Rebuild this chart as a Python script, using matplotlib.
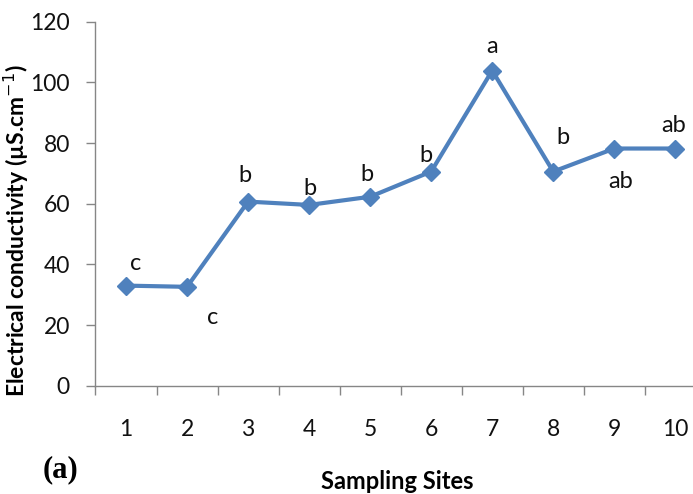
import matplotlib
matplotlib.use("Agg")
import matplotlib.pyplot as plt

# Electrical conductivity per sampling site with significance letters
sites = [1, 2, 3, 4, 5, 6, 7, 8, 9, 10]
conductivity = [33.0, 32.6, 60.7, 59.6, 62.3, 70.6, 103.9, 70.6, 78.2, 78.2]
letters = ["c", "c", "b", "b", "b", "b", "a", "b", "ab", "ab"]
y_ticks = [0, 20, 40, 60, 80, 100, 120]

# label placement relative to each marker (points)
letter_offsets = [(7.2, 15.6), (18.7, -22.3), (-2.4, 18.7), (0.7, 11.5),
                  (-2.4, 16.3), (-4.1, 11.5), (0, 17.3), (7.2, 24.7),
                  (4.3, -23.8), (-1.2, 16.4)]

plt.rcParams["font.family"] = ["Lato", "DejaVu Sans"]

fig = plt.figure(figsize=(6.93, 4.94), dpi=100)
ax = fig.add_axes([0.1378, 0.2192, 0.8622, 0.7368])

blue = "#4F81BD"
ax.plot(sites, conductivity, color=blue, linewidth=3.0, marker="D",
        markersize=8.8, markeredgewidth=1.0, markerfacecolor=blue,
        markeredgecolor=blue)

for x, y, s, off in zip(sites, conductivity, letters, letter_offsets):
    ax.annotate(s, (x, y), xytext=off, textcoords="offset points",
                ha="center", va="center", fontsize=17, color="#111111")

ax.set_ylim(0, 120)
ax.set_xlim(0.5, 10.29)
ax.set_yticks(y_ticks)
ax.set_xticks(sites)
ax.set_xticks([s - 0.5 for s in sites], minor=True)

gray = "#868686"
for side in ("top", "right"):
    ax.spines[side].set_visible(False)
for side in ("left", "bottom"):
    ax.spines[side].set_color(gray)
    ax.spines[side].set_linewidth(1.0)

ax.tick_params(axis="y", direction="out", length=6.5, width=1.0, color=gray,
               labelsize=16.5, pad=12, labelcolor="#111111")
ax.tick_params(axis="x", which="major", length=0, labelsize=16.5, pad=24,
               labelcolor="#111111")
ax.tick_params(axis="x", which="minor", direction="out", length=6.5, width=1.0,
               color=gray)

ax.set_ylabel("Electrical conductivity (µS.cm$^{-1}$)", fontsize=16.5,
              fontweight="bold")
ax.yaxis.label.set_verticalalignment("center")
ax.yaxis.set_label_coords(-0.133, 0.425)
ax.set_xlabel("Sampling Sites", fontsize=17, fontweight="bold")
ax.xaxis.label.set_verticalalignment("center")
ax.xaxis.set_label_coords(0.505, -0.262)

fig.text(0.087, 0.0486, "(a)", family="Liberation Serif", fontweight="bold",
         fontsize=22, ha="center", va="center")

fig.savefig("out.png", dpi=100)
